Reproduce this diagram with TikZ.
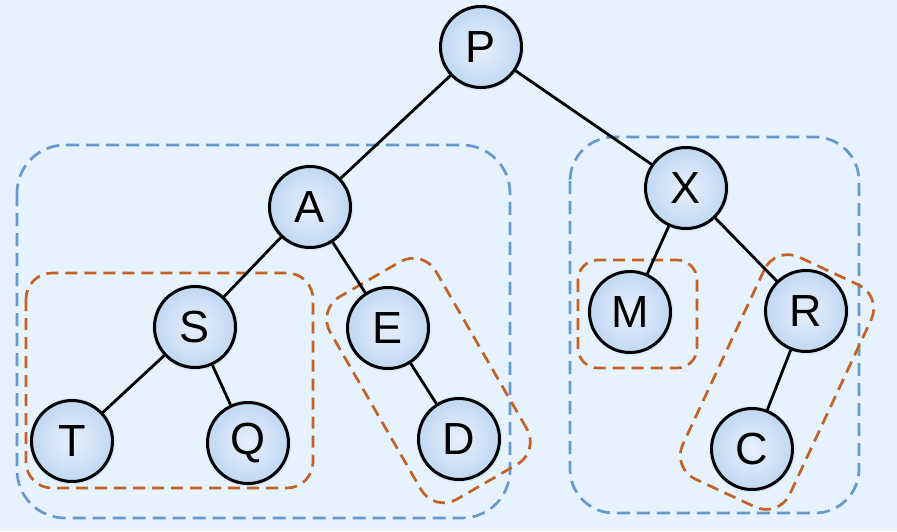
\documentclass[tikz,border=0pt]{standalone}
\usepackage{fontspec}
\setmainfont{Liberation Sans}
\usetikzlibrary{positioning, shadows, calc}
\definecolor{bgblue}{RGB}{230,242,253}
\definecolor{grpblue}{RGB}{104,152,204}
\definecolor{grporange}{RGB}{196,98,38}
\definecolor{nodein}{RGB}{230,240,252}
\definecolor{nodeout}{RGB}{192,216,242}
\pgfdeclarelayer{bg}
\pgfdeclarelayer{groups}
\pgfsetlayers{bg,groups,main}
\tikzset{
  vertex/.style={
    circle, draw=black, line width=3pt,
    minimum size=81pt, inner sep=0pt,
    inner color=nodein, outer color=nodeout,
    circular drop shadow={shadow xshift=0pt, shadow yshift=0pt,
      shadow scale=1.08, fill=blue!55!cyan, opacity=0.3},
    font=\fontsize{45}{45}\selectfont
  },
  branch/.style={line width=2.8pt, draw=black},
  bluegrp/.style={
    draw=grpblue, line width=2.7pt, dash pattern=on 13pt off 7pt,
    rounded corners=48pt
  },
  orangegrp/.style={
    draw=grporange, line width=2.7pt, dash pattern=on 12pt off 7pt,
    rounded corners=#1
  },
  orangegrp/.default=26pt
}

\begin{document}
\begin{tikzpicture}[x=1pt, y=-1pt, on grid]
  \begin{pgfonlayer}{bg}
    \fill[bgblue] (0,0) rectangle (897,531);
  \end{pgfonlayer}
  \useasboundingbox (0,0) rectangle (897,531);

  % the tree
  \node[vertex] (P) at (481,47) {P};
  \node[vertex, below left=160pt and 171pt of P] (A) {A};
  \node[vertex, below right=141pt and 205pt of P] (X) {X};
  \node[vertex, below left=120pt and 115pt of A] (S) {S};
  \node[vertex, below right=121pt and 78pt of A] (E) {E};
  \node[vertex, below left=114pt and 123pt of S] (T) {T};
  \node[vertex, below right=116pt and 53pt of S] (Q) {Q};
  \node[vertex, below right=111pt and 71pt of E] (D) {D};
  \node[vertex, below left=124pt and 56pt of X] (M) {M};
  \node[vertex, below right=123pt and 120pt of X] (R) {R};
  \node[vertex, below left=138pt and 54pt of R] (C) {C};

  \draw[branch] (P) -- (A);
  \draw[branch] (P) -- (X);
  \draw[branch] (A) -- (S);
  \draw[branch] (A) -- (E);
  \draw[branch] (S) -- (T);
  \draw[branch] (S) -- (Q);
  \draw[branch] (E) -- (D);
  \draw[branch] (X) -- (M);
  \draw[branch] (X) -- (R);
  \draw[branch] (R) -- (C);

  % subtree outlines
  \begin{pgfonlayer}{groups}
    \draw[bluegrp] (17,145) rectangle (510,518);
    \draw[bluegrp, rounded corners=44pt] (570,137) rectangle (859,513);
    \draw[orangegrp] (26,273) rectangle (313,488);
    \draw[orangegrp=20pt] (578,260) rectangle (697,368);
    \node[orangegrp, rectangle, rotate=-60,
      minimum width=234pt, minimum height=122pt]
      (edgrp) at ($(E)!0.5!(D)+(5,-3)$) {};
    \node[orangegrp, rectangle, rotate=65,
      minimum width=245pt, minimum height=118pt]
      (rcgrp) at ($(R)!0.5!(C)+(-2,2)$) {};
  \end{pgfonlayer}
\end{tikzpicture}
\end{document}
